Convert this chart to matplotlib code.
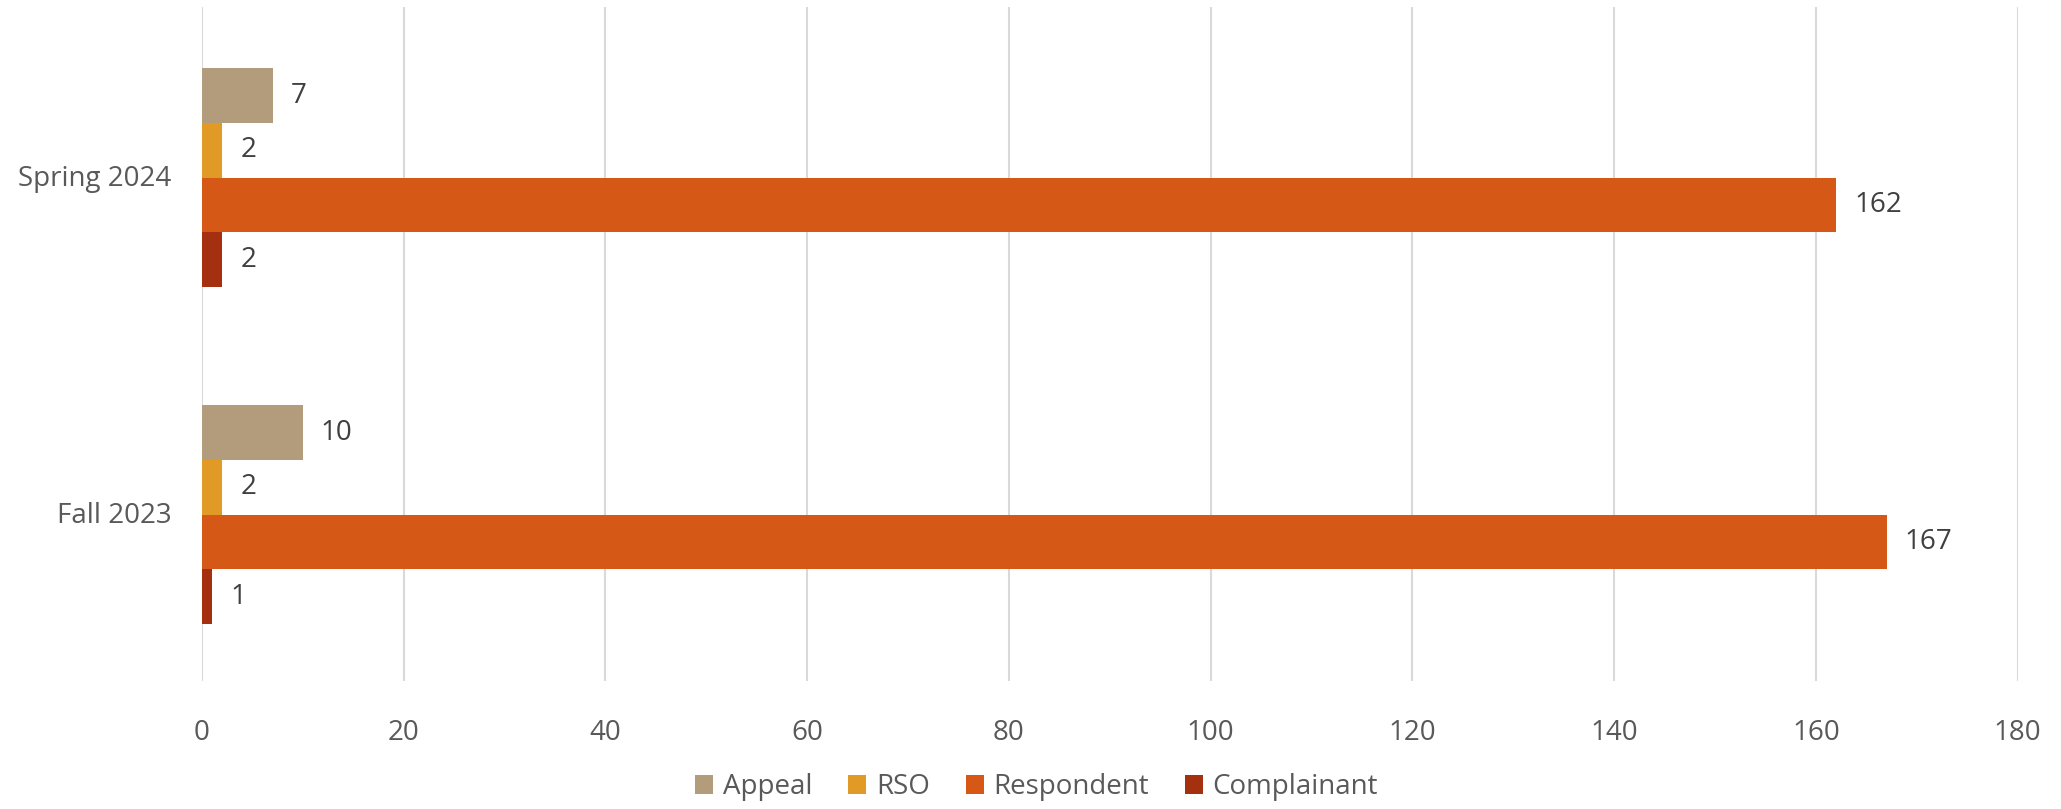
import numpy as np
import matplotlib; matplotlib.use('Agg'); import matplotlib.pyplot as plt

plt.rcParams['font.family'] = ['Open Sans', 'DejaVu Sans']

terms = ['Fall 2023', 'Spring 2024']
series = ['Appeal', 'RSO', 'Respondent', 'Complainant']
appeal = [10, 7]
rso = [2, 2]
respondent = [167, 162]
complainant = [1, 2]
colors = ['#B29C7C', '#E09A25', '#D55816', '#A5300F']

fig = plt.figure(figsize=(20.61, 8.09), dpi=100)
ax = fig.add_axes([0.098, 0.158, 0.881, 0.833])

y = np.arange(len(terms))
h = 0.1622
offs = [1.5, 0.5, -0.5, -1.5]
bars = []
for vals, name, c, o in zip([appeal, rso, respondent, complainant], series, colors, offs):
    b = ax.barh(y + o*h - 0.006, vals, height=h, color=c, label=name, zorder=2)
    ax.bar_label(b, padding=13, fontsize=20, color='#404040')
    bars.append(b)

ax.set_xlim(0, 180)
ax.set_ylim(-0.5, 1.5)
ax.set_xticks(np.arange(0, 181, 20))
ax.set_yticks(y, terms)
ax.grid(axis='x', color='#D9D9D9', lw=1.5, zorder=0)
ax.set_axisbelow(True)
for s in ax.spines.values(): s.set_visible(False)
ax.tick_params(axis='both', length=0, labelsize=20, labelcolor='#595959')
ax.tick_params(axis='x', pad=27)
ax.tick_params(axis='y', pad=22)

fig.legend(handles=bars, labels=series, loc='center', bbox_to_anchor=(0.503, 0.027),
           ncol=4, frameon=False, fontsize=20, labelcolor='#595959',
           handlelength=0.64, handleheight=0.64, handletextpad=0.36, columnspacing=1.29)

fig.savefig('out.png', dpi=100)
